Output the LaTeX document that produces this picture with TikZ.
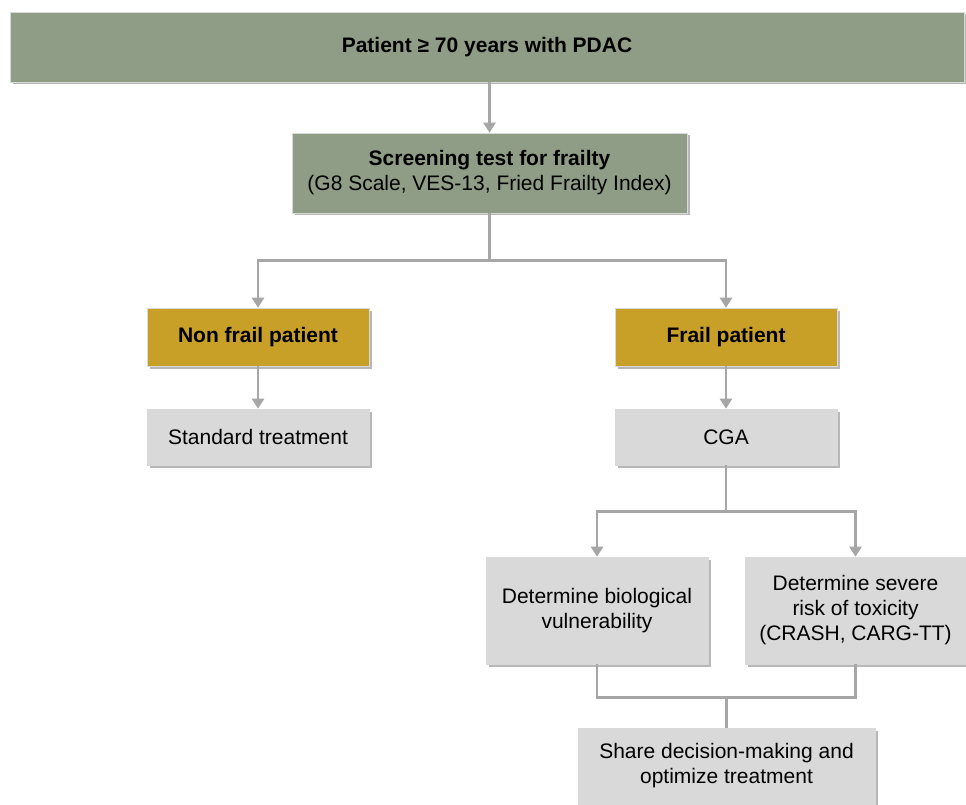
\documentclass[tikz,border=0pt]{standalone}
\usepackage{fontspec}
\setmainfont{Liberation Sans}
\usetikzlibrary{arrows.meta,shadows}
\definecolor{sage}{HTML}{8F9C86}
\definecolor{gold}{HTML}{C8A028}
\definecolor{pale}{HTML}{D9D9D9}
\definecolor{wire}{HTML}{A6A6A6}
\tikzset{
  box/.style={rectangle,draw=white!85!black,line width=0.6pt,align=center,inner sep=0pt,
    font=\fontsize{21}{25}\selectfont,
    drop shadow={shadow xshift=2.5pt,shadow yshift=-2.5pt,opacity=0.4,fill=black!70}},
  greenbox/.style={box,fill=sage},
  goldbox/.style={box,fill=gold,font=\fontsize{21}{25}\selectfont\bfseries},
  greybox/.style={box,fill=pale},
  link/.style={wire,line width=2.6pt},
  arr/.style={link,-{Triangle[length=10pt,width=12pt]}}
}
\begin{document}
\begin{tikzpicture}[x=1pt,y=-1pt]
  \useasboundingbox (0,0) rectangle (966,805);
  \node [greenbox,minimum width=954pt,minimum height=70pt,font=\fontsize{21}{25}\selectfont\bfseries] (patient) at (487,47) {Patient ≥ 70 years with PDAC};
  \node [greenbox,minimum width=395pt,minimum height=80pt] (screen) at (489.5,173) {\textbf{Screening test for frailty}\\(G8 Scale, VES-13, Fried Frailty Index)};
  \node [goldbox,minimum width=222pt,minimum height=58pt] (nonfrail) at (258,337) {Non frail patient};
  \node [goldbox,minimum width=222pt,minimum height=58pt] (frail) at (726,337) {Frail patient};
  \node [greybox,minimum width=222pt,minimum height=56pt] (standard) at (258,437) {Standard treatment};
  \node [greybox,minimum width=222pt,minimum height=56pt] (cga) at (726,437) {CGA};
  \node [greybox,minimum width=222pt,minimum height=107pt] (bio) at (597,610.5) {Determine biological\\vulnerability};
  \node [greybox,minimum width=221pt,minimum height=107pt] (tox) at (855.5,610.5) {Determine severe\\risk of toxicity\\(CRASH, CARG-TT)};
  \node [greybox,minimum width=297pt,minimum height=76pt] (share) at (726.5,766) {Share decision-making and\\optimize treatment};

  \draw [arr] (screen.north |- patient.south) -- (screen.north);
  \draw [link] (screen.south) -- ++(0,47) coordinate (split1);
  \draw [arr] (split1) -| (nonfrail.north);
  \draw [arr] (split1) -| (frail.north);
  \draw [arr] (nonfrail.south) -- (standard.north);
  \draw [arr] (frail.south) -- (cga.north);
  \draw [link] (cga.south) -- ++(0,46) coordinate (split2);
  \draw [arr] (split2) -| (bio.north);
  \draw [arr] (split2) -| (tox.north);
  \draw [link] (bio.south) -- ++(0,33) coordinate (merge) -| (tox.south);
  \draw [link] (share.north) -- (share.north |- merge);
\end{tikzpicture}
\end{document}
